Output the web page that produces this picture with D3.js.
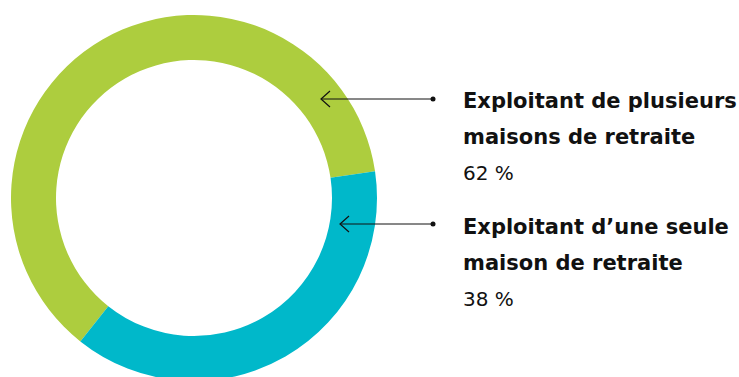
<!DOCTYPE html>
<meta charset="utf-8">
<script src="https://cdn.jsdelivr.net/npm/d3@7"></script>
<style>
body { margin: 0; background: #fff; }
.lbl { font-family: "DejaVu Sans", sans-serif; font-size: 20px; fill: #111; }
.bold { font-weight: 700; font-size: 21px; }
</style>
<body>
<script>

var width = 739,
    height = 377;

// data
var categories = ["Exploitant de plusieurs maisons de retraite", "Exploitant d\u2019une seule maison de retraite"];
var labelLines = [["Exploitant de plusieurs", "maisons de retraite"], ["Exploitant d\u2019une seule", "maison de retraite"]];
var values = [62, 38];
var colors = ["#adcd3e", "#00b8ca"];

var svg = d3.select("body").append("svg")
    .attr("width", width)
    .attr("height", height);

var cx = 194, cy = 198;
var outerR = 183, innerR = 138;

var start = 218.4 * Math.PI / 180;

var pie = d3.pie()
    .sort(null)
    .value(function(d) { return d; })
    .startAngle(start)
    .endAngle(start + 2 * Math.PI);

var arc = d3.arc()
    .innerRadius(innerR)
    .outerRadius(outerR);

var g = svg.append("g")
    .attr("transform", "translate(" + cx + "," + cy + ")");

var arcs = pie(values);

g.selectAll("path")
  .data(arcs)
  .enter().append("path")
  .attr("d", arc)
  .attr("fill", function(d, i) { return colors[i]; });

// callouts: arrow tip y and tip x
var tipY = [99, 224];
var tipX = [321, 340];
var dotX = 433;
var textX = 463;

var callouts = svg.selectAll(".callout")
  .data(values)
  .enter().append("g")
  .attr("class", "callout");

callouts.append("line")
  .attr("x1", function(d, i) { return tipX[i]; })
  .attr("x2", dotX)
  .attr("y1", function(d, i) { return tipY[i]; })
  .attr("y2", function(d, i) { return tipY[i]; })
  .attr("stroke", "#111")
  .attr("stroke-width", 1);

callouts.append("path")
  .attr("d", function(d, i) {
      var x = tipX[i], y = tipY[i];
      return "M" + (x + 9) + "," + (y - 8) + "L" + x + "," + y + "L" + (x + 9) + "," + (y + 8);
  })
  .attr("fill", "none")
  .attr("stroke", "#111")
  .attr("stroke-width", 1.2);

callouts.append("circle")
  .attr("cx", dotX)
  .attr("cy", function(d, i) { return tipY[i]; })
  .attr("r", 2.5)
  .attr("fill", "#111");

var baseY = [108, 234];

labelLines.forEach(function(lines, i) {
  lines.forEach(function(t, j) {
    svg.append("text")
      .attr("class", "lbl bold")
      .attr("x", textX)
      .attr("y", baseY[i] + j * 36)
      .text(t);
  });
  svg.append("text")
    .attr("class", "lbl")
    .attr("x", textX)
    .attr("y", baseY[i] + 72)
    .text(values[i] + " %");
});

</script>
</body>
